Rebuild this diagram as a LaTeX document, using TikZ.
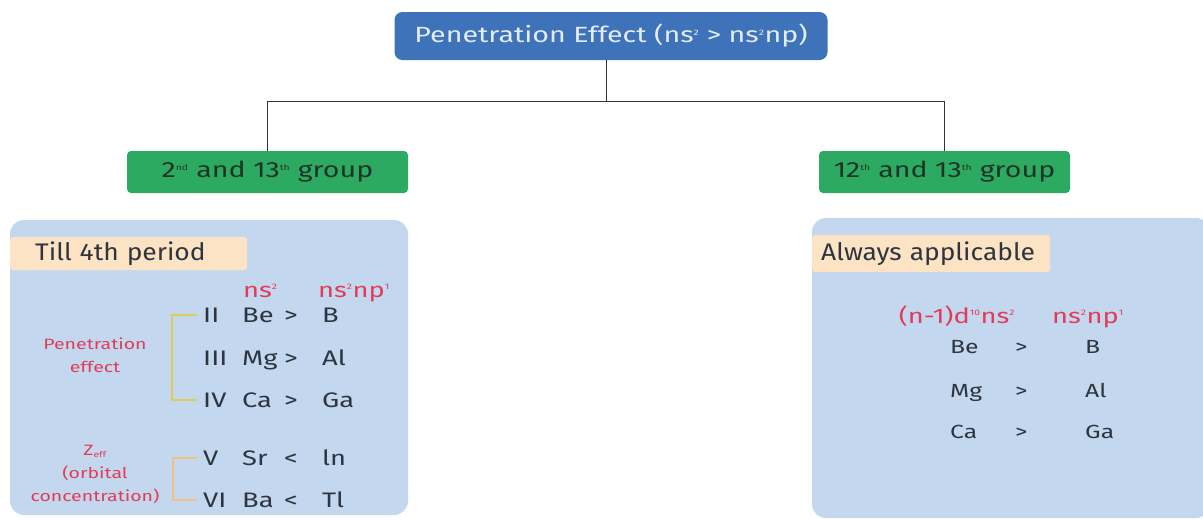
\documentclass[tikz,border=0pt]{standalone}
\usepackage{fontspec}
\setmainfont[FakeStretch=1.3]{Fira Sans}
\newfontfamily\tagfont[FakeStretch=1.1]{Fira Sans}
\definecolor{topblue}{HTML}{3E73B9}
\definecolor{toptext}{HTML}{E3ECF8}
\definecolor{grp}{HTML}{2DAA62}
\definecolor{grptext}{HTML}{1F3326}
\definecolor{panelblue}{HTML}{C3D8EE}
\definecolor{peach}{HTML}{FCE3C3}
\definecolor{redtxt}{HTML}{E23C5A}
\definecolor{dark}{HTML}{2E3540}
\definecolor{brkyellow}{HTML}{E0CC55}
\definecolor{brkpeach}{HTML}{EEC27E}
\newcommand\fsz[1]{\fontsize{#1}{1.15\dimexpr#1\relax}\selectfont}
\newcommand\upidx[1]{\textsuperscript{\fontsize{8pt}{8pt}\selectfont #1}}
\begin{document}
\begin{tikzpicture}[x=1pt,y=-1pt,
  topbox/.style={fill=topblue, rounded corners=8pt, text=toptext, minimum width=433pt, minimum height=48pt, font=\fsz{22pt}},
  groupbox/.style={fill=grp, rounded corners=4pt, text=grptext, minimum height=42pt, font=\fsz{22pt}},
  panel/.style={fill=panelblue, rounded corners=14pt, minimum width=398pt},
  tag/.style={fill=peach, rounded corners=3pt, text=dark, font=\tagfont\fsz{24pt}, anchor=west, align=left},
  row/.style={text=dark, font=\fsz{21pt}, anchor=base west, inner sep=0pt},
  hdr/.style={text=redtxt, font=\fsz{21pt}, anchor=base west, inner sep=0pt},
  side/.style={text=redtxt, font=\fontsize{15pt}{23pt}\selectfont, align=center, inner sep=0pt},
  link/.style={draw=black!80, line width=1pt},
  brk/.style={line width=1.6pt}
]
\useasboundingbox[fill=white] (0,0) rectangle (1203,520);

% heading and the two group boxes
\node[topbox] (top) at (611,36) {Penetration Effect (ns\upidx{2} > ns\upidx{2}np)};
\node[groupbox, minimum width=281pt] (g1) at (267.5,172) {2\upidx{nd} and 13\upidx{th} group};
\node[groupbox, minimum width=251pt] (g2) at (944.5,172) {12\upidx{th} and 13\upidx{th} group};
\draw[link] ([xshift=-5pt]top.south) -- ++(0,41) -| (g1.north);
\draw[link] ([xshift=-5pt]top.south) ++(0,41) -| (g2.north);

% panels
\node[panel, minimum height=295pt] (lp) at (209,367.5) {};
\node[panel, minimum height=300pt] (rp) at (1011,368) {};

% left panel
\node[tag, inner xsep=25pt, text width=187pt, minimum height=33pt] (t1) at (10,253.5) {Till 4th period};
\node[hdr] (h1) at (243,297) {ns\upidx{2}};
\node[hdr] (h2) at (318,297) {ns\upidx{2}np\upidx{1}};

\foreach \n/\r/\a/\c/\b/\y in {II/II/Be/>/B/322, III/III/Mg/>/Al/365, IV/IV/Ca/>/Ga/407, V/V/Sr/</ln/465, VI/VI/Ba/</Tl/507}{
  \node[row] (n\n) at (203,\y) {\r};
  \node[row] (a\n) at (242,\y) {\a};
  \node[row] (c\n) at (284,\y) {\c};
  \node[row] (b\n) at (322,\y) {\b};
}

\node[side] (pe) at (95,355) {Penetration\\effect};
\node[side] (ze) at (95,474) {Z\textsubscript{\fontsize{8pt}{8pt}\selectfont eff}\\(orbital\\concentration)};

% brackets joining each label to its rows
\draw[brk, draw=brkyellow] ([xshift=-6pt]nII.west) -- ++(-25,0) |- ([xshift=-6pt]nIV.west);
\draw[brk, draw=brkpeach] ([xshift=-6pt]nV.west) -- ++(-24,0) |- ([xshift=-6pt]nVI.west);

% right panel
\node[tag, inner xsep=9pt, text width=220pt, minimum height=37pt] (t2) at (812,253.5) {Always applicable};
\node[hdr, anchor=base] (h3) at (957,323) {(n-1)d\upidx{10}ns\upidx{2}};
\node[hdr, anchor=base] (h4) at (1088,323) {ns\upidx{2}np\upidx{1}};
\foreach \a/\b/\y [count=\i] in {Be/B/353, Mg/Al/397, Ca/Ga/438}{
  \node[row, font=\fsz{19pt}] (ra\i) at (950,\y) {\a};
  \node[row, font=\fsz{19pt}] (rc\i) at (1015,\y) {>};
  \node[row, font=\fsz{19pt}] (rb\i) at (1085,\y) {\b};
}
\end{tikzpicture}
\end{document}
